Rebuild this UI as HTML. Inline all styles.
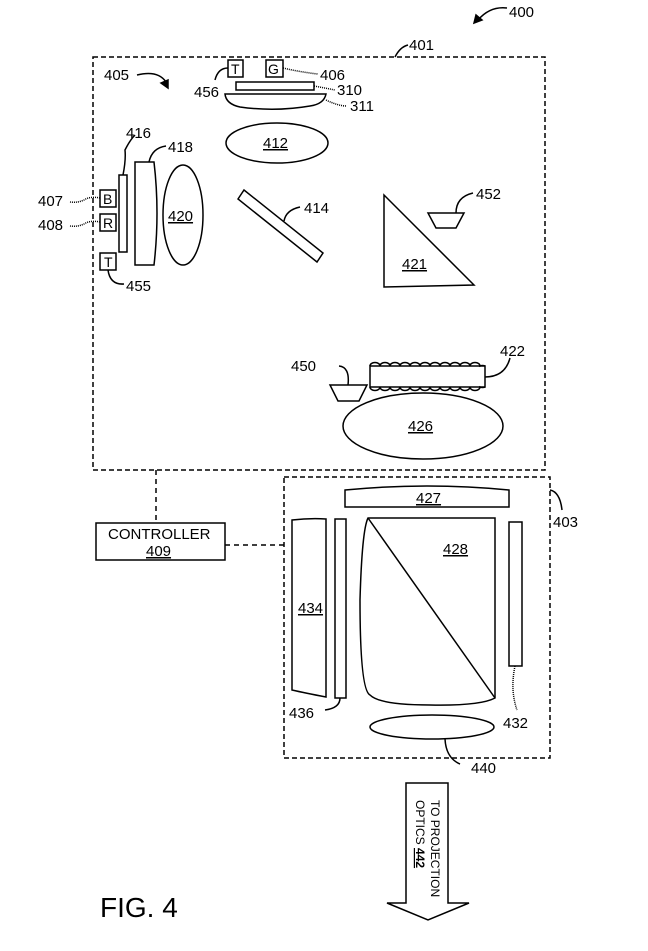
<!DOCTYPE html>
<html><head><style>
html,body{margin:0;padding:0;background:#fff;}
svg{display:block;}
text{font-family:"Liberation Sans",Arial,sans-serif;fill:#000;}
</style></head><body>
<svg width="648" height="951" viewBox="0 0 648 951" xmlns="http://www.w3.org/2000/svg">
<g fill="none" stroke="#000" stroke-width="1.5">
<path d="M507 8 Q490 6 478 20"/>
<path d="M474 23 l2-8 l6 5 z" fill="#000"/>
<rect x="93" y="57" width="452" height="413" stroke-dasharray="5,3"/>
<rect x="284" y="477" width="266" height="281" stroke-dasharray="5,3"/>
<path d="M156 470 V523" stroke-dasharray="5,4"/>
<path d="M225 545 H284" stroke-dasharray="5,4"/>
<rect x="96" y="523" width="129" height="37"/>
<path d="M395 57 Q400 47 408 45"/>
<path d="M550 490 Q560 492 562 510"/>
<path d="M137 75 Q158 70 166 82"/>
<path d="M168 88 l-7-5 l7-3 z" fill="#000"/>
<rect x="228" y="60" width="15" height="17"/>
<rect x="266" y="60" width="17" height="17"/>
<path d="M228 68 Q218 68 215 80"/>
<path d="M283 68 Q300 72 318 74" stroke-dasharray="1,1"/>
<rect x="236" y="82" width="78" height="8"/>
<path d="M225 94 H326 Q324 104 310 106 Q275 112 240 107 Q226 104 225 94 Z"/>
<path d="M314 86 Q325 88 335 90" stroke-dasharray="1,1"/>
<path d="M326 100 Q338 106 347 106" stroke-dasharray="1,1"/>
<ellipse cx="277" cy="143" rx="51" ry="20"/>
<rect x="100" y="190" width="16" height="17"/>
<rect x="100" y="214" width="16" height="17"/>
<rect x="100" y="253" width="16" height="17"/>
<path d="M100 198 Q90 196 84 200 Q78 203 70 202" stroke-dasharray="1,1"/>
<path d="M100 222 Q90 220 84 224 Q78 227 70 226" stroke-dasharray="1,1"/>
<path d="M108 270 Q110 285 124 284"/>
<rect x="119" y="175" width="8" height="77"/>
<path d="M123 175 Q126 160 125 150 Q130 140 135 135" />
<path d="M135 162 H154 Q160 213 154 265 H135 Z"/>
<path d="M149 162 Q152 148 166 146"/>
<ellipse cx="183" cy="215" rx="20" ry="50"/>
<path d="M238 199 L244 190 L323 253 L317 262 Z"/>
<path d="M284 221 Q286 210 300 207"/>
<path d="M384 195 L384 287 L474 285 Z"/>
<path d="M428 213 H464 L456 228 H436 Z"/>
<path d="M456 213 Q456 197 473 193"/>
<rect x="370" y="366" width="115" height="21"/>
<path d="M370 366 a5 3.5 0 0 1 10 0 a5 3.5 0 0 1 10 0 a5 3.5 0 0 1 10 0 a5 3.5 0 0 1 10 0 a5 3.5 0 0 1 10 0 a5 3.5 0 0 1 10 0 a5 3.5 0 0 1 10 0 a5 3.5 0 0 1 10 0 a5 3.5 0 0 1 10 0 a5 3.5 0 0 1 10 0 a5 3.5 0 0 1 10 0 a5 3.5 0 0 1 5 0"/>
<path d="M370 387 a5 3.5 0 0 0 10 0 a5 3.5 0 0 0 10 0 a5 3.5 0 0 0 10 0 a5 3.5 0 0 0 10 0 a5 3.5 0 0 0 10 0 a5 3.5 0 0 0 10 0 a5 3.5 0 0 0 10 0 a5 3.5 0 0 0 10 0 a5 3.5 0 0 0 10 0 a5 3.5 0 0 0 10 0 a5 3.5 0 0 0 10 0 a5 3.5 0 0 0 5 0"/>
<path d="M485 377 Q505 377 510 358"/>
<path d="M330 385 H367 L359 401 H338 Z"/>
<path d="M348 385 Q350 367 339 366"/>
<ellipse cx="423" cy="426" rx="80" ry="33"/>
<path d="M345 490 Q427 482 509 490 V507 H345 Z"/>
<path d="M292 520 Q310 518 326 519 V697 Q305 693 292 690 Z"/>
<rect x="335" y="519" width="11" height="179"/>
<path d="M340 698 Q340 708 325 710"/>
<path d="M368 518 H495 V698 Q480 706 430 705 Q380 705 370 695 Q360 690 360 600 Q362 530 368 518 Z"/>
<path d="M368 518 L495 698"/>
<rect x="509" y="522" width="13" height="144"/>
<path d="M515 666 Q510 690 517 710" stroke-dasharray="1,1"/>
<ellipse cx="432" cy="727" rx="62" ry="12"/>
<path d="M445 739 Q446 758 460 764"/>
<path d="M406 783 H448 V903 H469 L428 920 L387 903 H406 Z"/>
</g>
<g style="font-size:15px">
<text x="509" y="17">400</text>
<text x="409" y="50">401</text>
<text x="553" y="527">403</text>
<text x="104" y="80">405</text>
<text x="231" y="74" style="font-size:14px">T</text>
<text x="268" y="74" style="font-size:14px">G</text>
<text x="194" y="97">456</text>
<text x="320" y="80">406</text>
<text x="337" y="95">310</text>
<text x="350" y="111">311</text>
<text x="263" y="148" text-decoration="underline">412</text>
<text x="126" y="138">416</text>
<text x="168" y="152">418</text>
<text x="168" y="221" text-decoration="underline">420</text>
<text x="103" y="204" style="font-size:14px">B</text>
<text x="103" y="228" style="font-size:14px">R</text>
<text x="104" y="267" style="font-size:14px">T</text>
<text x="38" y="206">407</text>
<text x="38" y="230">408</text>
<text x="126" y="291">455</text>
<text x="304" y="213">414</text>
<text x="402" y="269" text-decoration="underline">421</text>
<text x="476" y="199">452</text>
<text x="500" y="356">422</text>
<text x="291" y="371">450</text>
<text x="408" y="431" text-decoration="underline">426</text>
<text x="108" y="539">CONTROLLER</text>
<text x="146" y="556" text-decoration="underline">409</text>
<text x="416" y="503" text-decoration="underline">427</text>
<text x="443" y="554" text-decoration="underline">428</text>
<text x="298" y="613" text-decoration="underline">434</text>
<text x="289" y="718">436</text>
<text x="503" y="728">432</text>
<text x="471" y="773">440</text>
</g>
<text transform="translate(431,800) rotate(90)" style="font-size:12px">TO PROJECTION</text>
<text transform="translate(416,800) rotate(90)" style="font-size:12px">OPTICS <tspan text-decoration="underline" font-weight="bold">442</tspan></text>
<text x="100" y="917" style="font-size:28px">FIG. 4</text>
</svg>
</body></html>
